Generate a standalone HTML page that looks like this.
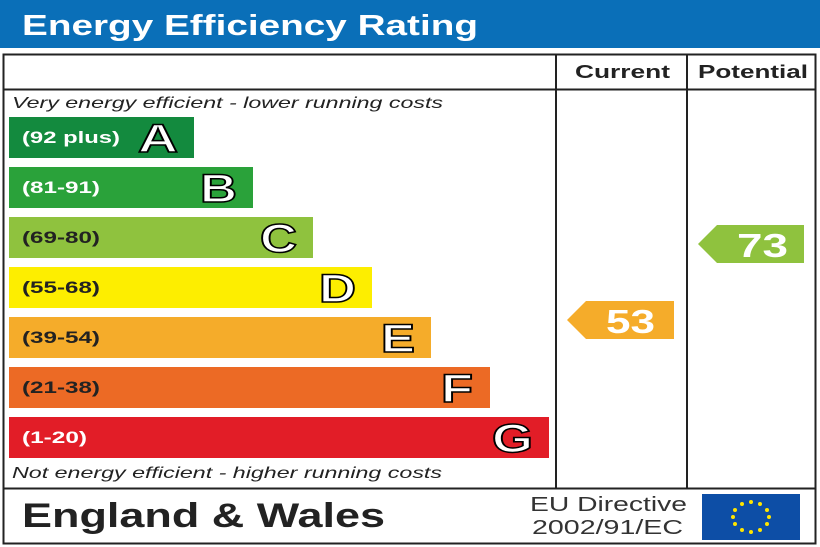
<!DOCTYPE html>
<html><head><style>body{margin:0;background:#fff}svg{display:block}</style></head><body>
<svg width="820" height="547" viewBox="0 0 820 547" xmlns="http://www.w3.org/2000/svg" font-family="Liberation Sans, Arial, sans-serif">
<rect x="0" y="0" width="820" height="48" fill="#0a6fb8"/>
<text x="22" y="35" font-size="29" font-weight="bold" fill="#fff" textLength="456" lengthAdjust="spacingAndGlyphs">Energy Efficiency Rating</text>
<rect x="3.5" y="54.5" width="812" height="489" fill="none" stroke="#222" stroke-width="2"/>
<line x1="3" y1="89.5" x2="816" y2="89.5" stroke="#222" stroke-width="2"/>
<line x1="3" y1="488.5" x2="816" y2="488.5" stroke="#222" stroke-width="2"/>
<line x1="556" y1="54" x2="556" y2="488" stroke="#222" stroke-width="2"/>
<line x1="687" y1="54" x2="687" y2="488" stroke="#222" stroke-width="2"/>
<text x="575" y="78" font-size="18" font-weight="bold" fill="#222" textLength="95" lengthAdjust="spacingAndGlyphs">Current</text>
<text x="698" y="78" font-size="18" font-weight="bold" fill="#222" textLength="110" lengthAdjust="spacingAndGlyphs">Potential</text>
<text x="12" y="108" font-size="16" font-style="italic" fill="#222" textLength="431" lengthAdjust="spacingAndGlyphs">Very energy efficient - lower running costs</text>
<text x="12" y="478" font-size="16" font-style="italic" fill="#222" textLength="430" lengthAdjust="spacingAndGlyphs">Not energy efficient - higher running costs</text>
<g font-weight="bold">
<rect x="9" y="117" width="185" height="41" fill="#138a3e"/><text x="22" y="143" font-size="17" fill="#fff" textLength="98" lengthAdjust="spacingAndGlyphs">(92 plus)</text><text x="138" y="152" font-size="40" fill="#fff" stroke="#000" stroke-width="1.5" textLength="40" lengthAdjust="spacingAndGlyphs">A</text>
<rect x="9" y="167" width="244" height="41" fill="#2aa23a"/><text x="22" y="193" font-size="17" fill="#fff" textLength="78" lengthAdjust="spacingAndGlyphs">(81-91)</text><text x="200" y="202" font-size="40" fill="#fff" stroke="#000" stroke-width="1.5" textLength="37" lengthAdjust="spacingAndGlyphs">B</text>
<rect x="9" y="217" width="304" height="41" fill="#8fc23e"/><text x="22" y="243" font-size="17" fill="#222" textLength="78" lengthAdjust="spacingAndGlyphs">(69-80)</text><text x="260" y="252" font-size="40" fill="#fff" stroke="#000" stroke-width="1.5" textLength="37" lengthAdjust="spacingAndGlyphs">C</text>
<rect x="9" y="267" width="363" height="41" fill="#fdee00"/><text x="22" y="293" font-size="17" fill="#222" textLength="78" lengthAdjust="spacingAndGlyphs">(55-68)</text><text x="319" y="302" font-size="40" fill="#fff" stroke="#000" stroke-width="1.5" textLength="37" lengthAdjust="spacingAndGlyphs">D</text>
<rect x="9" y="317" width="422" height="41" fill="#f5ac2a"/><text x="22" y="343" font-size="17" fill="#222" textLength="78" lengthAdjust="spacingAndGlyphs">(39-54)</text><text x="381" y="352" font-size="40" fill="#fff" stroke="#000" stroke-width="1.5" textLength="34" lengthAdjust="spacingAndGlyphs">E</text>
<rect x="9" y="367" width="481" height="41" fill="#ec6a25"/><text x="22" y="393" font-size="17" fill="#222" textLength="78" lengthAdjust="spacingAndGlyphs">(21-38)</text><text x="441" y="402" font-size="40" fill="#fff" stroke="#000" stroke-width="1.5" textLength="32" lengthAdjust="spacingAndGlyphs">F</text>
<rect x="9" y="417" width="540" height="41" fill="#e21d27"/><text x="22" y="443" font-size="17" fill="#fff" textLength="65" lengthAdjust="spacingAndGlyphs">(1-20)</text><text x="492" y="452" font-size="40" fill="#fff" stroke="#000" stroke-width="1.5" textLength="41" lengthAdjust="spacingAndGlyphs">G</text>
<polygon points="567,320 586,301 674,301 674,339 586,339" fill="#f5ac2a"/><text x="606" y="333" font-size="33" fill="#fff" textLength="49" lengthAdjust="spacingAndGlyphs">53</text>
<polygon points="698,244 717,225 804,225 804,263 717,263" fill="#8fc23e"/><text x="737" y="257" font-size="33" fill="#fff" textLength="51" lengthAdjust="spacingAndGlyphs">73</text>
</g>
<text x="22" y="527" font-size="34" font-weight="bold" fill="#222" textLength="363" lengthAdjust="spacingAndGlyphs">England &amp; Wales</text>
<text x="530" y="511" font-size="20" fill="#333" textLength="157" lengthAdjust="spacingAndGlyphs">EU Directive</text>
<text x="532" y="534" font-size="20" fill="#333" textLength="151" lengthAdjust="spacingAndGlyphs">2002/91/EC</text>
<rect x="702" y="494" width="98" height="46" fill="#0d4ea6"/>
<g fill="#ffe500">
<circle cx="751" cy="502" r="2"/><circle cx="760" cy="504" r="2"/><circle cx="767" cy="510" r="2"/><circle cx="769" cy="517" r="2"/><circle cx="767" cy="524" r="2"/><circle cx="760" cy="530" r="2"/><circle cx="751" cy="532" r="2"/><circle cx="742" cy="530" r="2"/><circle cx="735" cy="524" r="2"/><circle cx="733" cy="517" r="2"/><circle cx="735" cy="510" r="2"/><circle cx="742" cy="504" r="2"/>
</g>
</svg>
</body></html>
